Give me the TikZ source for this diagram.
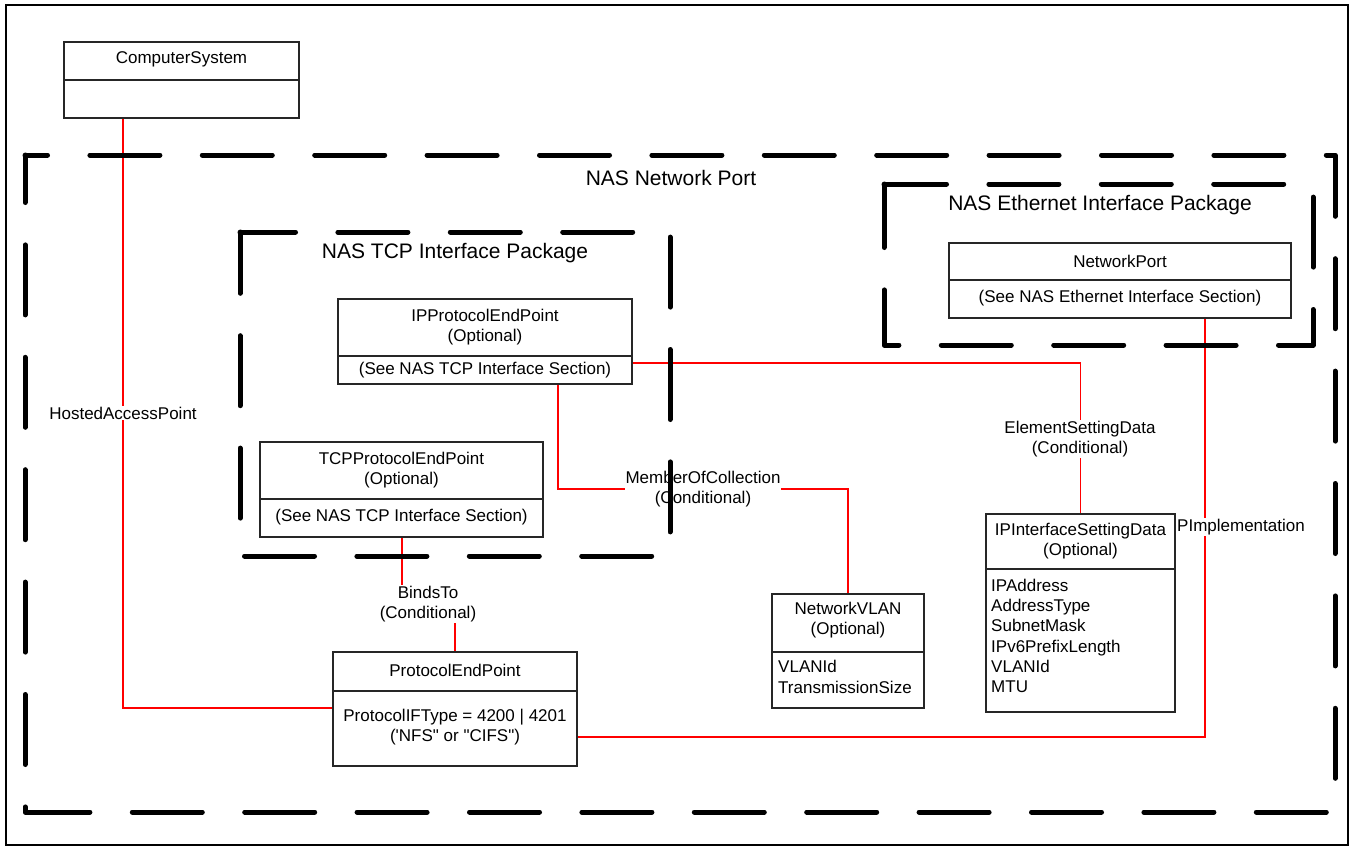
\documentclass[tikz,border=0pt]{standalone}
\usepackage{fontspec}
\setmainfont{Liberation Sans}[Ligatures=TeXOff]
\definecolor{assocred}{RGB}{255,0,0}
\begin{document}
\begin{tikzpicture}[x=1pt,y=-1pt,
  cls/.style={draw=black!85, line width=1.1pt, fill=white, inner sep=0pt},
  div/.style={draw=black!85, line width=1.1pt},
  txt/.style={font=\fontsize{17}{20.3}\selectfont, inner sep=1pt, align=center},
  attr/.style={font=\fontsize{17}{20.3}\selectfont, inner sep=0pt, align=left, anchor=west},
  assoc/.style={draw=assocred, line width=1.3pt},
  lbl/.style={font=\fontsize{17}{20.3}\selectfont, fill=white, inner sep=1pt, align=center},
  pkg/.style={draw=black, line width=5pt, line cap=round, line join=round, dash pattern=on 70pt off 42.4pt},
  ttl/.style={font=\fontsize{21}{25}\selectfont, inner sep=0pt}]
\useasboundingbox (0,0) rectangle (1352,846);
\fill[white] (0,0) rectangle (1352,846);
\draw[line width=2pt] (6,5) rectangle (1348,845);

% class boxes (outlines, drawn first as named nodes)
\node[cls, minimum width=235pt, minimum height=76pt] (cs) at (181.5,80) {};
\node[cls, minimum width=294pt, minimum height=85pt] (ippep) at (485,341.5) {};
\node[cls, minimum width=283pt, minimum height=95pt] (tcppep) at (401.5,489.5) {};
\node[cls, minimum width=342pt, minimum height=75pt] (np) at (1120,280.5) {};
\node[cls, minimum width=244pt, minimum height=114pt] (pep) at (455,709) {};
\node[cls, minimum width=152pt, minimum height=114pt] (vlan) at (848,651) {};
\node[cls, minimum width=189pt, minimum height=198pt] (ipisd) at (1080.5,613) {};

% connectors
\draw[assoc] (cs.south -| 123,0) |- (pep.west |- 0,708);
\draw[assoc] (tcppep.south -| 402,0) |- (428,604) -| (pep.north);
\draw[assoc] (ippep.south -| 558,0) |- (703,489) -| (vlan.north);
\draw[assoc] (ippep.east |- 0,363) -| (ipisd.north);
\draw[assoc] (np.south -| 1205,0) |- (pep.east |- 0,737);

% connector labels
\node[lbl] (l1) at (123,413) {HostedAccessPoint};
\node[lbl] (l2) at (428,604) {BindsTo\\(Conditional)};
\node[lbl] (l3) at (703,489) {MemberOfCollection\\(Conditional)};
\node[lbl] (l4) at (1080,439) {ElementSettingData\\(Conditional)};
\node[lbl, anchor=west] (l5) at (1176,527) {PImplementation};

% redraw class boxes on top
\node[cls, minimum width=235pt, minimum height=76pt] at (cs) {};
\node[cls, minimum width=294pt, minimum height=85pt] at (ippep) {};
\node[cls, minimum width=283pt, minimum height=95pt] at (tcppep) {};
\node[cls, minimum width=342pt, minimum height=75pt] at (np) {};
\node[cls, minimum width=244pt, minimum height=114pt] at (pep) {};
\node[cls, minimum width=152pt, minimum height=114pt] at (vlan) {};
\node[cls, minimum width=189pt, minimum height=198pt] at (ipisd) {};

% dividers
\draw[div] (cs.west |- 0,80) -- (cs.east |- 0,80);
\draw[div] (ippep.west |- 0,356) -- (ippep.east |- 0,356);
\draw[div] (tcppep.west |- 0,499) -- (tcppep.east |- 0,499);
\draw[div] (np.west |- 0,280) -- (np.east |- 0,280);
\draw[div] (pep.west |- 0,691) -- (pep.east |- 0,691);
\draw[div] (vlan.west |- 0,652) -- (vlan.east |- 0,652);
\draw[div] (ipisd.west |- 0,569) -- (ipisd.east |- 0,569);

% class texts
\node[txt] (cst) at (181.5,59) {ComputerSystem};
\node[txt] (ippept) at (485,327) {IPProtocolEndPoint\\(Optional)};
\node[txt] (ippeps) at (485,370) {(See NAS TCP Interface Section)};
\node[txt] (tcpt) at (401.5,470) {TCPProtocolEndPoint\\(Optional)};
\node[txt] (tcps) at (401.5,517) {(See NAS TCP Interface Section)};
\node[txt] (npt) at (1120,261) {NetworkPort};
\node[txt] (nps) at (1120,298) {(See NAS Ethernet Interface Section)};
\node[txt] (pept) at (455,670) {ProtocolEndPoint};
\node[txt] (peps) at (455,727) {ProtocolIFType = 4200 | 4201\\('NFS" or "CIFS")};
\node[txt] (vlant) at (848,620) {NetworkVLAN\\(Optional)};
\node[attr] (vlana) at (778,677) {VLANId\\TransmissionSize};
\node[txt] (ipisdt) at (1080.5,541) {IPInterfaceSettingData\\(Optional)};
\node[attr] (ipisda) at (991,636) {IPAddress\\AddressType\\SubnetMask\\IPv6PrefixLength\\VLANId\\MTU};

% packages
\draw[pkg, dash phase=47.5pt] (25,155) -- (1335,155) -- (1335,812) -- (25,812) -- cycle;
\draw[pkg, dash phase=14.5pt] (240,232) -- (670,232) -- (670,556) -- (240,556) -- cycle;
\draw[pkg, dash phase=7.5pt] (884,184) -- (1313,184) -- (1313,345) -- (884,345) -- cycle;

\node[ttl] (t1) at (671,178) {NAS Network Port};
\node[ttl] (t2) at (455,253) {NAS TCP Interface Package};
\node[ttl] (t3) at (1100,205) {NAS Ethernet Interface Package};
\end{tikzpicture}
\end{document}
